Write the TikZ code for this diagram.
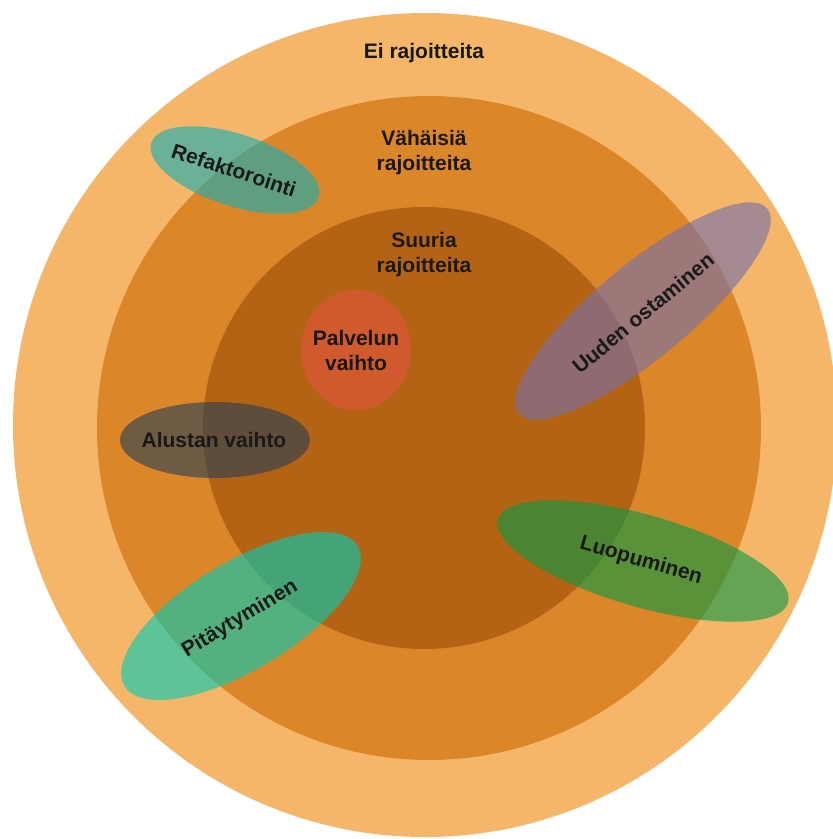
\documentclass[tikz,border=0pt]{standalone}
\usepackage{fontspec}
\setmainfont{Liberation Sans}
\usetikzlibrary{shapes.geometric}

% ring colours
\definecolor{ringout}{RGB}{245,182,106}
\definecolor{ringmid}{RGB}{218,134,41}
\definecolor{ringin}{RGB}{180,99,20}
% option colours
\definecolor{refc}{RGB}{21,175,180}
\definecolor{uudc}{RGB}{118,112,170}
\definecolor{alusc}{RGB}{44,65,85}
\definecolor{pitc}{RGB}{2,204,180}
\definecolor{luoc}{RGB}{13,154,68}
\definecolor{palc}{RGB}{208,90,45}

\begin{document}
\begin{tikzpicture}[x=1pt,y=-1pt,
  blob/.style={ellipse, inner sep=0pt, draw=none, fill opacity=0.62},
  lbl/.style={font=\fontsize{21}{25}\selectfont\bfseries, text=black!90, align=center, inner sep=0pt}]
\useasboundingbox (0,0) rectangle (833,839);

% nested constraint rings
\fill[ringout] (425,425) circle (412pt);
\fill[ringmid] (429,428) circle (332pt);
\fill[ringin]  (424,428) circle (221pt);

\node[lbl] (ei)  at (424,53)  {Ei rajoitteita};
\node[lbl] (vah) at (424,153) {Vähäisiä\\rajoitteita};
\node[lbl] (suu) at (424,255) {Suuria\\rajoitteita};

% options
\node[ellipse, inner sep=0pt, fill=palc, minimum width=110, minimum height=120] (pal) at (356,350) {};
\node[lbl] (palt) at (356,350) {Palvelun\\vaihto};

\node[blob, fill=refc, minimum width=176, minimum height=72, rotate=-18] (ref) at (235,170) {};
\node[lbl, rotate=-18] (reft) at (234,170) {Refaktorointi};

\node[blob, fill=uudc, minimum width=322, minimum height=94, rotate=39.5] (uud) at (643,311) {};
\node[lbl, rotate=39.5] (uudt) at (643,313) {Uuden ostaminen};

\node[blob, fill=alusc, minimum width=190, minimum height=76] (alu) at (215,440) {};
\node[lbl] (alut) at (214,440) {Alustan vaihto};

\node[blob, fill=pitc, minimum width=272, minimum height=108, rotate=31] (pit) at (241,616) {};
\node[lbl, rotate=31] (pitt) at (240,619) {Pitäytyminen};

\node[blob, fill=luoc, minimum width=302, minimum height=92, rotate=-16] (luo) at (643,561) {};
\node[lbl, rotate=-16] (luot) at (641,561) {Luopuminen};
\end{tikzpicture}
\end{document}
